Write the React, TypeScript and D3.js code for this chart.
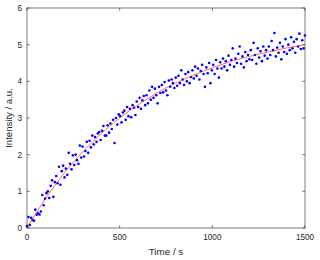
import React from 'react';
import * as d3 from 'd3';

// measured sample times (s)
const times = [
  0, 7.5, 15, 22.5, 30, 37.5, 45, 52.5, 60, 67.5, 75, 82.5, 90, 97.5,
  105, 112.5, 120, 127.5, 135, 142.5, 150, 157.5, 165, 172.5, 180, 187.5, 195,
  202.5, 210, 217.5, 225, 232.5, 240, 247.5, 255, 262.5, 270, 277.5, 285, 292.5,
  300, 307.5, 315, 322.5, 330, 337.5, 345, 352.5, 360, 367.5, 375, 382.5, 390, 397.5,
  405, 412.5, 420, 427.5, 435, 442.5, 450, 457.5, 465, 472.5, 480, 487.5, 495,
  502.5, 510, 517.5, 525, 532.5, 540, 547.5, 555, 562.5, 570, 577.5, 585, 592.5,
  600, 607.5, 615, 622.5, 630, 637.5, 645, 652.5, 660, 667.5, 675, 682.5, 690, 697.5,
  705, 712.5, 720, 727.5, 735, 742.5, 750, 757.5, 765, 772.5, 780, 787.5, 795,
  802.5, 810, 817.5, 825, 832.5, 840, 847.5, 855, 862.5, 870, 877.5, 885, 892.5,
  900, 907.5, 915, 922.5, 930, 937.5, 945, 952.5, 960, 967.5, 975, 982.5, 990, 997.5,
  1005, 1012.5, 1020, 1027.5, 1035, 1042.5, 1050, 1057.5, 1065, 1072.5, 1080, 1087.5, 1095,
  1102.5, 1110, 1117.5, 1125, 1132.5, 1140, 1147.5, 1155, 1162.5, 1170, 1177.5, 1185, 1192.5,
  1200, 1207.5, 1215, 1222.5, 1230, 1237.5, 1245, 1252.5, 1260, 1267.5, 1275, 1282.5, 1290, 1297.5,
  1305, 1312.5, 1320, 1327.5, 1335, 1342.5, 1350, 1357.5, 1365, 1372.5, 1380, 1387.5, 1395,
  1402.5, 1410, 1417.5, 1425, 1432.5, 1440, 1447.5, 1455, 1462.5, 1470, 1477.5, 1485, 1492.5,
  1500,
];

// measured intensity (a.u.)
const intensity = [
  0.05, 0.30, 0.08, 0.28, 0.22, 0.20, 0.50, 0.36, 0.40, 0.37, 0.45, 0.90, 0.62, 0.80,
  0.95, 1.00, 0.82, 1.15, 1.30, 0.85, 1.25, 1.42, 1.22, 1.67, 1.18, 1.55, 1.70,
  1.38, 1.62, 1.45, 2.05, 1.75, 1.60, 1.98, 1.72, 2.00, 1.85, 1.75, 2.25, 1.92,
  2.22, 1.95, 2.10, 2.35, 2.05, 2.38, 2.20, 2.52, 2.28, 2.48, 2.35, 2.58, 2.62, 2.40,
  2.65, 2.78, 2.52, 2.52, 2.80, 2.60, 2.85, 2.70, 2.95, 2.32, 3.00, 2.82, 3.10,
  3.05, 2.88, 3.15, 3.20, 2.95, 3.30, 3.05, 3.25, 3.02, 3.35, 3.28, 3.08, 3.45,
  3.30, 3.55, 3.25, 3.48, 3.60, 3.35, 3.62, 3.40, 3.75, 3.50, 3.85, 3.55, 3.80, 3.62,
  3.40, 3.85, 3.68, 3.90, 3.70, 3.98, 3.75, 3.62, 4.02, 3.85, 4.05, 3.95, 3.82,
  4.10, 3.88, 4.15, 3.95, 4.30, 4.05, 3.90, 4.20, 4.00, 4.25, 3.95, 4.12, 4.30,
  4.08, 4.40, 4.15, 4.35, 4.05, 4.28, 4.45, 4.20, 3.85, 4.38, 4.22, 4.50, 3.95, 4.30,
  4.45, 4.20, 4.58, 4.35, 4.10, 4.52, 4.35, 4.62, 4.40, 4.55, 4.30, 4.70, 4.45,
  4.58, 4.90, 4.40, 4.62, 4.50, 4.75, 4.95, 4.48, 4.68, 4.38, 4.80, 4.55, 4.72,
  4.60, 4.85, 4.58, 5.05, 4.72, 4.48, 4.90, 4.65, 4.82, 4.55, 4.95, 4.70, 4.85, 4.62,
  4.95, 4.72, 5.10, 4.85, 5.32, 4.68, 4.92, 4.78, 5.05, 4.60, 4.95, 4.80, 5.15,
  4.75, 5.00, 4.85, 5.20, 4.90, 5.08, 4.78, 5.15, 4.95, 5.30, 4.88, 5.12, 4.90,
  5.25,
];

// fitted curve, read at every 100 s
const fitTimes = [0, 100, 200, 300, 400, 500, 600, 700, 800, 900, 1000, 1100, 1200, 1300, 1400, 1500];
const fitValues = [0, 0.80, 1.49, 2.07, 2.57, 3.00, 3.36, 3.68, 3.95, 4.17, 4.37, 4.54, 4.68, 4.80, 4.91, 5.00];

const xTicks = [0, 500, 1000, 1500];
const yTicks = [0, 1, 2, 3, 4, 5, 6];

export default function App() {
  const width = 320, height = 260;
  const margin = { top: 8, right: 15, bottom: 32, left: 27 };
  const x = d3.scaleLinear().domain([0, 1500]).range([margin.left, width - margin.right]);
  const y = d3.scaleLinear().domain([0, 6]).range([height - margin.bottom, margin.top]);

  const line = d3.line<number>()
    .x((d, i) => x(fitTimes[i]))
    .y(d => y(d))
    .curve(d3.curveMonotoneX);

  const axisColor = '#262626';
  const tick = 2.8;
  const font = 'Arial, "Liberation Sans", Helvetica, sans-serif';

  return (
    <svg width={width} height={height} style={{ position: 'absolute', left: 0, top: 0, background: '#fff' }}
      fontFamily={font}>
      {times.map((t, i) => (
        <circle key={i} cx={x(t)} cy={y(intensity[i])} r={1.3} fill="#0000ff" />
      ))}
      <path d={line(fitValues) || ''} fill="none" stroke="#ff0000" strokeWidth={0.8} strokeOpacity={0.75} />

      <rect x={x(0)} y={y(6)} width={x(1500) - x(0)} height={y(0) - y(6)}
        fill="none" stroke={axisColor} strokeWidth={0.6} />

      {xTicks.map(v => (
        <g key={'x' + v}>
          <line x1={x(v)} x2={x(v)} y1={y(0)} y2={y(0) - tick} stroke={axisColor} strokeWidth={0.6} />
          <line x1={x(v)} x2={x(v)} y1={y(6)} y2={y(6) + tick} stroke={axisColor} strokeWidth={0.6} />
          <text x={x(v)} y={y(0) + 12} textAnchor="middle" fontSize={8.2} fill={axisColor}>{v}</text>
        </g>
      ))}
      {yTicks.map(v => (
        <g key={'y' + v}>
          <line x1={x(0)} x2={x(0) + tick} y1={y(v)} y2={y(v)} stroke={axisColor} strokeWidth={0.6} />
          <line x1={x(1500)} x2={x(1500) - tick} y1={y(v)} y2={y(v)} stroke={axisColor} strokeWidth={0.6} />
          <text x={x(0) - 5} y={y(v) + 3} textAnchor="end" fontSize={8.2} fill={axisColor}>{v}</text>
        </g>
      ))}

      <text x={(x(0) + x(1500)) / 2} y={height - 5} textAnchor="middle" fontSize={9.8} fill={axisColor}>Time / s</text>
      <text transform={`translate(11.5,${(y(0) + y(6)) / 2}) rotate(-90)`} textAnchor="middle" fontSize={9.6}
        fill={axisColor}>Intensity / a.u.</text>
    </svg>
  );
}
